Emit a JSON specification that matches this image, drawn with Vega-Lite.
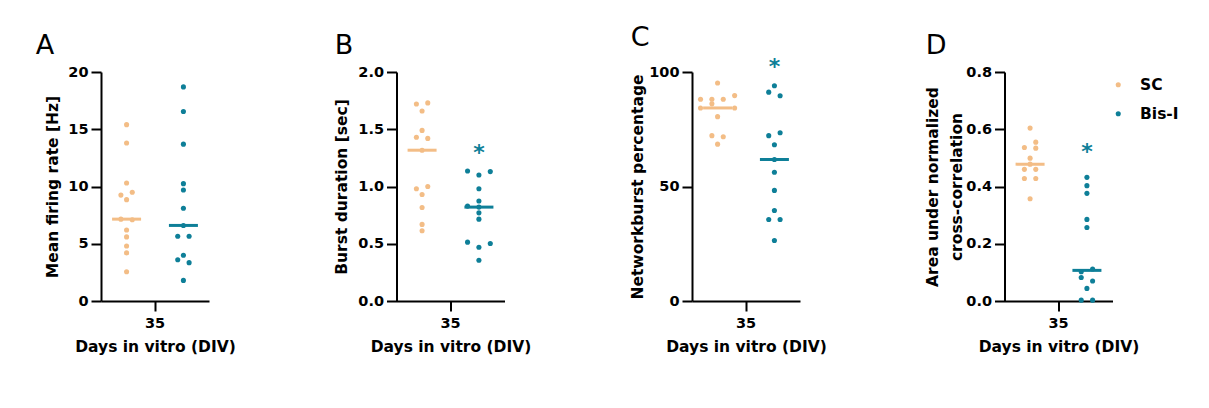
{
  "$schema": "https://vega.github.io/schema/vega-lite/v6.json",
  "padding": {"left": 35, "top": 23, "right": 5, "bottom": 5},
  "spacing": 98.5,
  "resolve": {"scale": {"color": "independent"}},
  "datasets": {
    "dots": [
      {"p":"A","d":"35","g":"SC","s":"SC:0","v":15.4},
      {"p":"A","d":"35","g":"SC","s":"SC:0","v":13.8},
      {"p":"A","d":"35","g":"SC","s":"SC:0","v":10.3},
      {"p":"A","d":"35","g":"SC","s":"SC:-1","v":9.25},
      {"p":"A","d":"35","g":"SC","s":"SC:1","v":9.5},
      {"p":"A","d":"35","g":"SC","s":"SC:0","v":8.85},
      {"p":"A","d":"35","g":"SC","s":"SC:-1","v":7.15},
      {"p":"A","d":"35","g":"SC","s":"SC:1","v":7.1},
      {"p":"A","d":"35","g":"SC","s":"SC:0","v":6.2},
      {"p":"A","d":"35","g":"SC","s":"SC:0","v":5.6},
      {"p":"A","d":"35","g":"SC","s":"SC:0","v":4.8},
      {"p":"A","d":"35","g":"SC","s":"SC:0","v":4.2},
      {"p":"A","d":"35","g":"SC","s":"SC:0","v":2.55},
      {"p":"A","d":"35","g":"Bis-I","s":"Bis-I:0","v":18.7},
      {"p":"A","d":"35","g":"Bis-I","s":"Bis-I:0","v":16.55},
      {"p":"A","d":"35","g":"Bis-I","s":"Bis-I:0","v":13.7},
      {"p":"A","d":"35","g":"Bis-I","s":"Bis-I:0","v":10.25},
      {"p":"A","d":"35","g":"Bis-I","s":"Bis-I:0","v":9.7},
      {"p":"A","d":"35","g":"Bis-I","s":"Bis-I:0","v":8.1},
      {"p":"A","d":"35","g":"Bis-I","s":"Bis-I:0","v":6.6},
      {"p":"A","d":"35","g":"Bis-I","s":"Bis-I:-1","v":5.66},
      {"p":"A","d":"35","g":"Bis-I","s":"Bis-I:1","v":5.66},
      {"p":"A","d":"35","g":"Bis-I","s":"Bis-I:0","v":4.0},
      {"p":"A","d":"35","g":"Bis-I","s":"Bis-I:-1","v":3.6},
      {"p":"A","d":"35","g":"Bis-I","s":"Bis-I:1","v":3.35},
      {"p":"A","d":"35","g":"Bis-I","s":"Bis-I:0","v":1.8},
      {"p":"B","d":"35","g":"SC","s":"SC:-1","v":1.72},
      {"p":"B","d":"35","g":"SC","s":"SC:1","v":1.73},
      {"p":"B","d":"35","g":"SC","s":"SC:0","v":1.66},
      {"p":"B","d":"35","g":"SC","s":"SC:0","v":1.49},
      {"p":"B","d":"35","g":"SC","s":"SC:-1","v":1.43},
      {"p":"B","d":"35","g":"SC","s":"SC:1","v":1.42},
      {"p":"B","d":"35","g":"SC","s":"SC:0","v":1.317},
      {"p":"B","d":"35","g":"SC","s":"SC:1","v":1.0},
      {"p":"B","d":"35","g":"SC","s":"SC:-1","v":0.98},
      {"p":"B","d":"35","g":"SC","s":"SC:0","v":0.93},
      {"p":"B","d":"35","g":"SC","s":"SC:0","v":0.817},
      {"p":"B","d":"35","g":"SC","s":"SC:0","v":0.669},
      {"p":"B","d":"35","g":"SC","s":"SC:0","v":0.613},
      {"p":"B","d":"35","g":"Bis-I","s":"Bis-I:-2","v":1.136},
      {"p":"B","d":"35","g":"Bis-I","s":"Bis-I:0","v":1.10},
      {"p":"B","d":"35","g":"Bis-I","s":"Bis-I:2","v":1.13},
      {"p":"B","d":"35","g":"Bis-I","s":"Bis-I:0","v":0.98},
      {"p":"B","d":"35","g":"Bis-I","s":"Bis-I:0","v":0.873},
      {"p":"B","d":"35","g":"Bis-I","s":"Bis-I:-2","v":0.829},
      {"p":"B","d":"35","g":"Bis-I","s":"Bis-I:0","v":0.82},
      {"p":"B","d":"35","g":"Bis-I","s":"Bis-I:0","v":0.77},
      {"p":"B","d":"35","g":"Bis-I","s":"Bis-I:0","v":0.715},
      {"p":"B","d":"35","g":"Bis-I","s":"Bis-I:-2","v":0.514},
      {"p":"B","d":"35","g":"Bis-I","s":"Bis-I:0","v":0.47},
      {"p":"B","d":"35","g":"Bis-I","s":"Bis-I:2","v":0.502},
      {"p":"B","d":"35","g":"Bis-I","s":"Bis-I:0","v":0.356},
      {"p":"C","d":"35","g":"SC","s":"SC:0","v":95.2},
      {"p":"C","d":"35","g":"SC","s":"SC:-3","v":88.1},
      {"p":"C","d":"35","g":"SC","s":"SC:-1","v":88.1},
      {"p":"C","d":"35","g":"SC","s":"SC:1","v":88.1},
      {"p":"C","d":"35","g":"SC","s":"SC:3","v":89.7},
      {"p":"C","d":"35","g":"SC","s":"SC:-1","v":86.1},
      {"p":"C","d":"35","g":"SC","s":"SC:-3","v":84.3},
      {"p":"C","d":"35","g":"SC","s":"SC:3","v":84.3},
      {"p":"C","d":"35","g":"SC","s":"SC:0","v":80.5},
      {"p":"C","d":"35","g":"SC","s":"SC:-1","v":72.2},
      {"p":"C","d":"35","g":"SC","s":"SC:1","v":71.7},
      {"p":"C","d":"35","g":"SC","s":"SC:0","v":68.5},
      {"p":"C","d":"35","g":"Bis-I","s":"Bis-I:0","v":94.0},
      {"p":"C","d":"35","g":"Bis-I","s":"Bis-I:-1","v":91.2},
      {"p":"C","d":"35","g":"Bis-I","s":"Bis-I:1","v":89.6},
      {"p":"C","d":"35","g":"Bis-I","s":"Bis-I:1","v":73.5},
      {"p":"C","d":"35","g":"Bis-I","s":"Bis-I:-1","v":72.2},
      {"p":"C","d":"35","g":"Bis-I","s":"Bis-I:0","v":68.2},
      {"p":"C","d":"35","g":"Bis-I","s":"Bis-I:0","v":61.8},
      {"p":"C","d":"35","g":"Bis-I","s":"Bis-I:0","v":56.2},
      {"p":"C","d":"35","g":"Bis-I","s":"Bis-I:0","v":48.3},
      {"p":"C","d":"35","g":"Bis-I","s":"Bis-I:0","v":39.5},
      {"p":"C","d":"35","g":"Bis-I","s":"Bis-I:-1","v":35.6},
      {"p":"C","d":"35","g":"Bis-I","s":"Bis-I:1","v":35.6},
      {"p":"C","d":"35","g":"Bis-I","s":"Bis-I:0","v":26.4},
      {"p":"D","d":"35","g":"SC","s":"SC:0","v":0.604},
      {"p":"D","d":"35","g":"SC","s":"SC:1","v":0.555},
      {"p":"D","d":"35","g":"SC","s":"SC:-1","v":0.536},
      {"p":"D","d":"35","g":"SC","s":"SC:1","v":0.534},
      {"p":"D","d":"35","g":"SC","s":"SC:0","v":0.499},
      {"p":"D","d":"35","g":"SC","s":"SC:0","v":0.478},
      {"p":"D","d":"35","g":"SC","s":"SC:-1","v":0.46},
      {"p":"D","d":"35","g":"SC","s":"SC:1","v":0.46},
      {"p":"D","d":"35","g":"SC","s":"SC:-1","v":0.428},
      {"p":"D","d":"35","g":"SC","s":"SC:1","v":0.428},
      {"p":"D","d":"35","g":"SC","s":"SC:0","v":0.357},
      {"p":"D","d":"35","g":"Bis-I","s":"Bis-I:0","v":0.432},
      {"p":"D","d":"35","g":"Bis-I","s":"Bis-I:0","v":0.403},
      {"p":"D","d":"35","g":"Bis-I","s":"Bis-I:0","v":0.376},
      {"p":"D","d":"35","g":"Bis-I","s":"Bis-I:0","v":0.285},
      {"p":"D","d":"35","g":"Bis-I","s":"Bis-I:0","v":0.257},
      {"p":"D","d":"35","g":"Bis-I","s":"Bis-I:1","v":0.112},
      {"p":"D","d":"35","g":"Bis-I","s":"Bis-I:-1","v":0.102},
      {"p":"D","d":"35","g":"Bis-I","s":"Bis-I:-1","v":0.082},
      {"p":"D","d":"35","g":"Bis-I","s":"Bis-I:1","v":0.07},
      {"p":"D","d":"35","g":"Bis-I","s":"Bis-I:0","v":0.044},
      {"p":"D","d":"35","g":"Bis-I","s":"Bis-I:-1","v":0.003},
      {"p":"D","d":"35","g":"Bis-I","s":"Bis-I:1","v":0.003}
    ],
    "medians": [
      {"p":"A","d":"35","g":"SC","s":"SC:0","v":7.15},
      {"p":"A","d":"35","g":"Bis-I","s":"Bis-I:0","v":6.6},
      {"p":"B","d":"35","g":"SC","s":"SC:0","v":1.317},
      {"p":"B","d":"35","g":"Bis-I","s":"Bis-I:0","v":0.82},
      {"p":"C","d":"35","g":"SC","s":"SC:0","v":84.3},
      {"p":"C","d":"35","g":"Bis-I","s":"Bis-I:0","v":61.8},
      {"p":"D","d":"35","g":"SC","s":"SC:0","v":0.478},
      {"p":"D","d":"35","g":"Bis-I","s":"Bis-I:0","v":0.107}
    ],
    "stars": [
      {"p":"B","d":"35","s":"Bis-I:0","v":1.326},
      {"p":"C","d":"35","s":"Bis-I:0","v":104},
      {"p":"D","d":"35","s":"Bis-I:0","v":0.536}
    ]
  },
  "config": {
    "font": "DejaVu Sans",
    "view": {"stroke": null},
    "axis": {
      "labelFont": "DejaVu Sans", "labelFontWeight": "bold", "labelFontSize": 14.5, "labelColor": "black",
      "titleFont": "DejaVu Sans", "titleFontWeight": "bold", "titleFontSize": 15.5, "titleColor": "black",
      "domainColor": "black", "domainWidth": 2, "tickColor": "black", "tickWidth": 2, "tickSize": 10,
      "grid": false, "labelPadding": 3
    },
    "axisY": {"titlePadding": 7, "titleLineHeight": 24},
    "axisX": {"labelPadding": 5, "titlePadding": 10, "labelAngle": 0},
    "title": {"font": "DejaVu Sans", "fontSize": 27, "fontWeight": "normal", "anchor": "start", "frame": "bounds", "color": "black", "offset": 4},
    "legend": {
      "symbolType": "circle", "symbolSize": 26, "labelFont": "DejaVu Sans", "labelFontWeight": "bold",
      "labelFontSize": 15.5, "labelColor": "black", "rowPadding": 12, "labelOffset": 14, "offset": -7, "padding": 5
    }
  },
  "hconcat": [
    {
      "title": {"text": "A", "dx": -10},
      "width": 108, "height": 229,
      "encoding": {
        "x": {"field": "d", "type": "nominal", "scale": {"paddingInner": 0, "paddingOuter": 0}, "axis": {"title": "Days in vitro (DIV)"}},
        "xOffset": {"field": "s", "type": "nominal", "scale": {"domain": ["SC:-3","SC:-2","SC:-1","SC:0","SC:1","SC:2","SC:3","g1","g2","g3","Bis-I:-3","Bis-I:-2","Bis-I:-1","Bis-I:0","Bis-I:1","Bis-I:2","Bis-I:3"], "paddingInner": 0, "paddingOuter": 3.1}},
        "y": {"field": "v", "type": "quantitative", "scale": {"domain": [0, 20], "nice": false}, "axis": {"title": "Mean firing rate [Hz]", "values": [0, 5, 10, 15, 20], "titlePadding": 7}}
      },
      "layer": [
        {
          "data": {"name": "dots"}, "transform": [{"filter": "datum.p === 'A'"}],
          "mark": {"type": "circle", "size": 26, "opacity": 1},
          "encoding": {"color": {"field": "g", "type": "nominal", "scale": {"domain": ["SC", "Bis-I"], "range": ["#f3bd86", "#0e7f98"]}, "legend": null}}
        },
        {
          "data": {"name": "medians"}, "transform": [{"filter": "datum.p === 'A'"}],
          "mark": {"type": "tick", "thickness": 3, "size": 29, "opacity": 1},
          "encoding": {"color": {"field": "g", "type": "nominal", "scale": {"domain": ["SC", "Bis-I"], "range": ["#f3bd86", "#0e7f98"]}, "legend": null}}
        }
      ]
    },
    {
      "title": {"text": "B"},
      "width": 108, "height": 229,
      "encoding": {
        "x": {"field": "d", "type": "nominal", "scale": {"paddingInner": 0, "paddingOuter": 0}, "axis": {"title": "Days in vitro (DIV)"}},
        "xOffset": {"field": "s", "type": "nominal", "scale": {"domain": ["SC:-3","SC:-2","SC:-1","SC:0","SC:1","SC:2","SC:3","g1","g2","g3","Bis-I:-3","Bis-I:-2","Bis-I:-1","Bis-I:0","Bis-I:1","Bis-I:2","Bis-I:3"], "paddingInner": 0, "paddingOuter": 3.1}},
        "y": {"field": "v", "type": "quantitative", "scale": {"domain": [0, 2], "nice": false}, "axis": {"title": "Burst duration [sec]", "values": [0, 0.5, 1, 1.5, 2], "format": ".1f", "titlePadding": 8}}
      },
      "layer": [
        {
          "data": {"name": "dots"}, "transform": [{"filter": "datum.p === 'B'"}],
          "mark": {"type": "circle", "size": 26, "opacity": 1},
          "encoding": {"color": {"field": "g", "type": "nominal", "scale": {"domain": ["SC", "Bis-I"], "range": ["#f3bd86", "#0e7f98"]}, "legend": null}}
        },
        {
          "data": {"name": "medians"}, "transform": [{"filter": "datum.p === 'B'"}],
          "mark": {"type": "tick", "thickness": 3, "size": 29, "opacity": 1},
          "encoding": {"color": {"field": "g", "type": "nominal", "scale": {"domain": ["SC", "Bis-I"], "range": ["#f3bd86", "#0e7f98"]}, "legend": null}}
        },
        {
          "data": {"name": "stars"}, "transform": [{"filter": "datum.p === 'B'"}],
          "mark": {"type": "text", "text": "*", "fontSize": 22, "fontWeight": "bold", "color": "#0e7f98", "baseline": "middle", "dy": 4}
        }
      ]
    },
    {
      "title": {"text": "C"},
      "width": 108, "height": 229,
      "encoding": {
        "x": {"field": "d", "type": "nominal", "scale": {"paddingInner": 0, "paddingOuter": 0}, "axis": {"title": "Days in vitro (DIV)"}},
        "xOffset": {"field": "s", "type": "nominal", "scale": {"domain": ["SC:-3","SC:-2","SC:-1","SC:0","SC:1","SC:2","SC:3","g1","g2","g3","Bis-I:-3","Bis-I:-2","Bis-I:-1","Bis-I:0","Bis-I:1","Bis-I:2","Bis-I:3"], "paddingInner": 0, "paddingOuter": 3.1}},
        "y": {"field": "v", "type": "quantitative", "scale": {"domain": [0, 100], "nice": false}, "axis": {"title": "Networkburst percentage", "values": [0, 50, 100], "titlePadding": 3}}
      },
      "layer": [
        {
          "data": {"name": "dots"}, "transform": [{"filter": "datum.p === 'C'"}],
          "mark": {"type": "circle", "size": 26, "opacity": 1},
          "encoding": {"color": {"field": "g", "type": "nominal", "scale": {"domain": ["SC", "Bis-I"], "range": ["#f3bd86", "#0e7f98"]}, "legend": null}}
        },
        {
          "data": {"name": "medians"}, "transform": [{"filter": "datum.p === 'C'"}],
          "mark": {"type": "tick", "thickness": 3, "size": 29, "opacity": 1},
          "encoding": {"color": {"field": "g", "type": "nominal", "scale": {"domain": ["SC", "Bis-I"], "range": ["#f3bd86", "#0e7f98"]}, "legend": null}}
        },
        {
          "data": {"name": "stars"}, "transform": [{"filter": "datum.p === 'C'"}],
          "mark": {"type": "text", "text": "*", "fontSize": 22, "fontWeight": "bold", "color": "#0e7f98", "baseline": "middle", "dy": 4}
        }
      ]
    },
    {
      "title": {"text": "D"},
      "width": 108, "height": 229,
      "encoding": {
        "x": {"field": "d", "type": "nominal", "scale": {"paddingInner": 0, "paddingOuter": 0}, "axis": {"title": "Days in vitro (DIV)"}},
        "xOffset": {"field": "s", "type": "nominal", "scale": {"domain": ["SC:-3","SC:-2","SC:-1","SC:0","SC:1","SC:2","SC:3","g1","g2","g3","Bis-I:-3","Bis-I:-2","Bis-I:-1","Bis-I:0","Bis-I:1","Bis-I:2","Bis-I:3"], "paddingInner": 0, "paddingOuter": 3.1}},
        "y": {"field": "v", "type": "quantitative", "scale": {"domain": [0, 0.8], "nice": false}, "axis": {"title": ["Area under normalized", "cross-correlation"], "values": [0, 0.2, 0.4, 0.6, 0.8], "format": ".1f", "titlePadding": 1}}
      },
      "layer": [
        {
          "data": {"name": "dots"}, "transform": [{"filter": "datum.p === 'D'"}],
          "mark": {"type": "circle", "size": 26, "opacity": 1},
          "encoding": {"color": {"field": "g", "type": "nominal", "scale": {"domain": ["SC", "Bis-I"], "range": ["#f3bd86", "#0e7f98"]}, "legend": {"title": null}}}
        },
        {
          "data": {"name": "medians"}, "transform": [{"filter": "datum.p === 'D'"}],
          "mark": {"type": "tick", "thickness": 3, "size": 29, "opacity": 1},
          "encoding": {"color": {"field": "g", "type": "nominal", "scale": {"domain": ["SC", "Bis-I"], "range": ["#f3bd86", "#0e7f98"]}}}
        },
        {
          "data": {"name": "stars"}, "transform": [{"filter": "datum.p === 'D'"}],
          "mark": {"type": "text", "text": "*", "fontSize": 22, "fontWeight": "bold", "color": "#0e7f98", "baseline": "middle", "dy": 4}
        }
      ]
    }
  ]
}
